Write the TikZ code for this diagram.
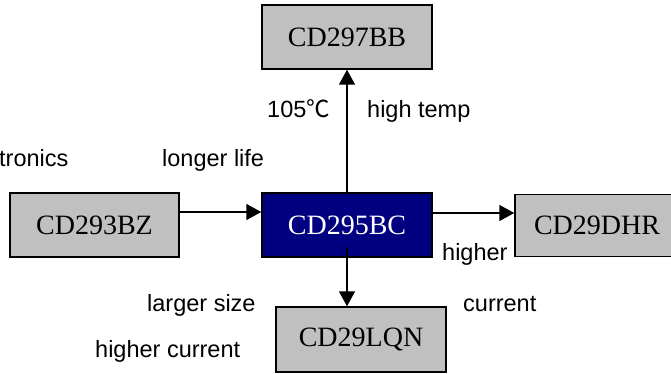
\documentclass[tikz,border=0pt]{standalone}
\usepackage{fontspec}
\setmainfont{Liberation Serif}
\newfontfamily\labfont{Liberation Sans}
\newfontfamily\cjkfont{Noto Sans CJK SC}
\usetikzlibrary{arrows.meta}
\definecolor{boxgray}{RGB}{192,192,192}
\definecolor{navy}{RGB}{0,0,128}
\tikzset{
  part/.style={draw=black, line width=1.5pt, fill=boxgray, minimum width=170pt, minimum height=64pt, inner sep=0pt, font=\fontsize{28}{30}\selectfont},
  hub/.style={part, fill=navy, text=white},
  lab/.style={anchor=base west, inner sep=0pt, font=\labfont\fontsize{23.5}{26}\selectfont},
  arr/.style={line width=1.5pt, -{Triangle[length=15pt,width=16pt]}}
}
\begin{document}
\begin{tikzpicture}[x=1pt,y=-1pt]
\useasboundingbox (0,0) rectangle (671,374);
\node[part] (bb) at (347,37) {CD297BB};
\node[part, minimum width=169pt] (bz) at (94.5,225) {CD293BZ};
\node[hub] (bc) at (347,225) {CD295BC};
\node[part, minimum width=164pt, minimum height=62pt] (dhr) at (597,225.5) {CD29DHR};
\node[part, minimum height=65pt] (lqn) at (361,339.5) {CD29LQN};
\draw[arr] (bc.north) -- (bb.south);
\draw[arr] ([yshift=13pt]bz.east) -- ([yshift=13pt]bz.east -| bc.west);
\draw[arr] ([yshift=12pt]bc.east) -- ([yshift=12pt]bc.east -| dhr.west);
\draw[arr] ([yshift=11pt]bc.south) -- (bc.south |- lqn.north);
\node[lab] (t1) at (-1,167) {tronics};
\node[lab] (t2) at (162,167) {longer life};
\node[lab] (t3) at (267,118) {105{\cjkfont ℃}};
\node[lab] (t4) at (367,118) {high temp};
\node[lab] (t5) at (442,260) {higher};
\node[lab] (t6) at (463,311) {current};
\node[lab] (t7) at (147,311) {larger size};
\node[lab] (t8) at (95,357) {higher current};
\end{tikzpicture}
\end{document}
